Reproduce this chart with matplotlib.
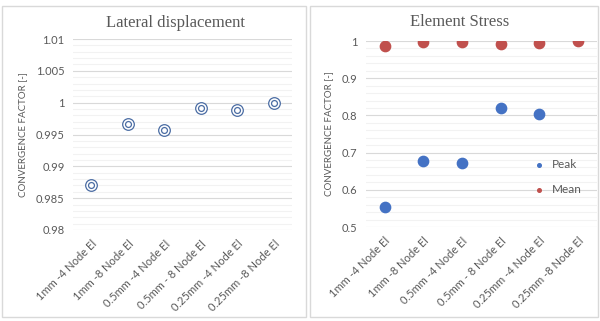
import matplotlib
matplotlib.use('Agg')
import matplotlib.pyplot as plt
from matplotlib.patches import Rectangle
from matplotlib.ticker import MultipleLocator

# data
cases = ['1mm -4 Node El', '1mm -8 Node El', '0.5mm -4 Node El',
         '0.5mm - 8 Node El', '0.25mm -4 Node El', '0.25mm -8 Node El']
lateral = [0.9871, 0.9967, 0.9957, 0.9991, 0.9988, 1.0]
stress_peak = [0.553, 0.677, 0.671, 0.821, 0.805]
stress_mean = [0.986, 0.996, 0.998, 0.992, 0.994, 1.0]

grey = '#595959'
plt.rcParams['font.family'] = ['Lato', 'DejaVu Sans']

fig = plt.figure(figsize=(6.0, 3.21), dpi=100)

# panel borders
for x0, x1 in [(1.5, 306), (310, 597.5)]:
    fig.patches.append(Rectangle((x0 / 600, 4.5 / 321), (x1 - x0) / 600, (318 - 4.5 - 3) / 321,
                                 transform=fig.transFigure, fill=False,
                                 edgecolor='#D9D9D9', linewidth=1.0))


def style(ax, major, minor):
    ax.yaxis.set_major_locator(MultipleLocator(major))
    ax.yaxis.set_minor_locator(MultipleLocator(minor))
    ax.grid(axis='y', which='major', color='#D9D9D9', linewidth=0.8)
    ax.grid(axis='y', which='minor', color='#F2F2F2', linewidth=0.8)
    ax.set_axisbelow(True)
    for s in ax.spines.values():
        s.set_visible(False)
    ax.tick_params(which='both', length=0, colors=grey, labelsize=8, pad=6)
    ax.set_xlim(0.5, 6.5)
    ax.set_xticks(range(1, 7))
    ax.set_xticklabels(cases, rotation=45, ha='right', rotation_mode='anchor')
    ax.set_ylabel('CONVERGENCE FACTOR [-]', color=grey, fontsize=7, labelpad=6)


# left: lateral displacement
ax1 = fig.add_axes([73 / 600, 91 / 321, 219 / 600, 191 / 321])
x = range(1, len(lateral) + 1)
ax1.scatter(x, lateral, s=70, facecolor='white', edgecolor='#4A6CA3', linewidth=0.9, zorder=3)
ax1.scatter(x, lateral, s=18, facecolor='white', edgecolor='#4A6CA3', linewidth=0.9, zorder=4)
ax1.set_ylim(0.98, 1.01)
style(ax1, 0.005, 0.001)
ax1.set_yticklabels([f'{v:g}' for v in ax1.get_yticks()])
fig.text(175 / 600, 1 - 23 / 321, 'Lateral displacement', family='Liberation Serif',
         fontsize=12, color=grey, ha='center', va='center')

# right: element stress
ax2 = fig.add_axes([365.5 / 600, 94 / 321, 231.5 / 600, 186 / 321])
ax2.scatter(range(1, len(stress_peak) + 1), stress_peak, s=55, color='#4472C4',
            zorder=3, label='Peak')
ax2.scatter(range(1, len(stress_mean) + 1), stress_mean, s=55, color='#C0504D',
            zorder=3, label='Mean')
ax2.set_ylim(0.5, 1.0)
style(ax2, 0.1, 0.02)
ax2.set_yticklabels([f'{v:g}' for v in ax2.get_yticks()])
fig.text(460 / 600, 1 - 22 / 321, 'Element Stress', family='Liberation Serif',
         fontsize=12, color=grey, ha='center', va='center')
leg = ax2.legend(loc='upper left', bbox_to_anchor=(0.672, 0.395), frameon=False,
                 fontsize=8.5, markerscale=0.35, handletextpad=0.15,
                 labelspacing=1.15, borderpad=0)
for t in leg.get_texts():
    t.set_color(grey)

fig.savefig('out.png', dpi=100)
